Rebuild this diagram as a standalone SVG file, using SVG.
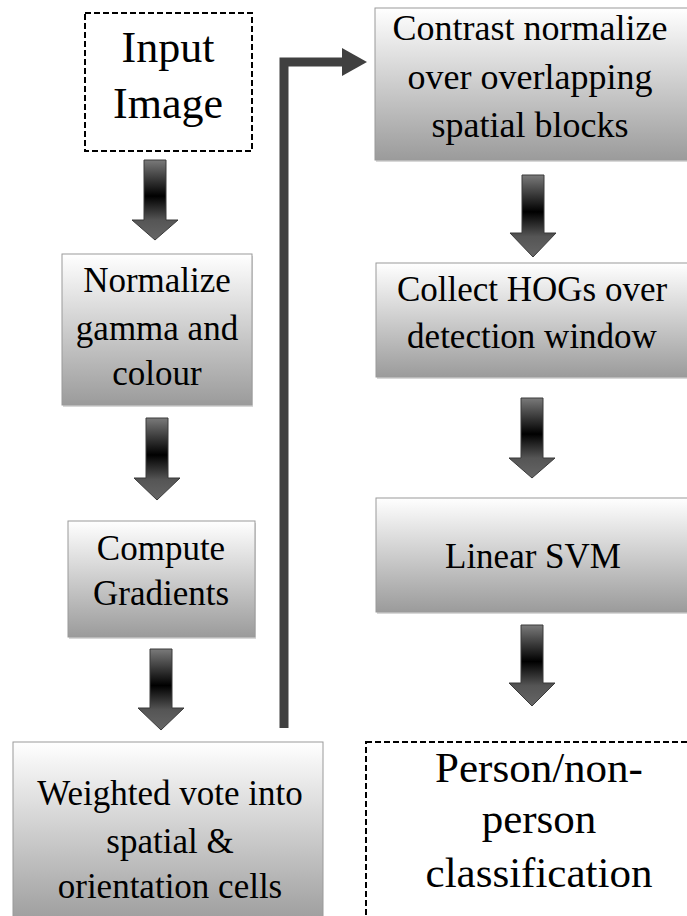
<svg xmlns="http://www.w3.org/2000/svg" width="687" height="916" viewBox="0 0 687 916">
<defs>
<linearGradient id="boxg" x1="0" y1="0" x2="0" y2="1">
<stop offset="0" stop-color="#ffffff"/>
<stop offset="1" stop-color="#9b9b9b"/>
</linearGradient>
<linearGradient id="arrg" x1="0" y1="0" x2="0" y2="1">
<stop offset="0" stop-color="#7a7a7a"/>
<stop offset="0.45" stop-color="#000000"/>
<stop offset="0.75" stop-color="#555555"/>
<stop offset="1" stop-color="#666666"/>
</linearGradient>
</defs>
<rect width="687" height="916" fill="#ffffff"/>

<g id="connectors">
<path d="M284 728 V62 H345" fill="none" stroke="#404040" stroke-width="9"/>
<polygon points="342,48 367,62 342,76" fill="#404040"/>
<g fill="url(#arrg)" stroke="#3a3a3a" stroke-width="1">
<polygon points="144,160 166,160 166,220 178,220 155,240 132,220 144,220"/>
<polygon points="146,418 168,418 168,478 180,478 157,500 134,478 146,478"/>
<polygon points="150,649 172,649 172,708 184,708 161,730 138,708 150,708"/>
<polygon points="522,175 544,175 544,233 556,233 533,257 510,233 522,233"/>
<polygon points="521,398 543,398 543,458 555,458 532,478 509,458 521,458"/>
<polygon points="521,625 543,625 543,683 555,683 532,706 509,683 521,683"/>
</g>
</g>

<g id="input-image">
<rect x="85" y="13" width="167" height="138" fill="#ffffff" stroke="#000" stroke-width="2" stroke-dasharray="6 3"/>
<text x="168" y="62" font-family="Times New Roman, Liberation Serif, serif" font-size="44" text-anchor="middle">Input</text>
<text x="168" y="118" font-family="Times New Roman, Liberation Serif, serif" font-size="44" text-anchor="middle">Image</text>
</g>

<g id="normalize">
<rect x="63" y="256" width="190" height="151" fill="#d8d8d8"/>
<rect x="62" y="254" width="190" height="151" fill="url(#boxg)" stroke="#9a9a9a" stroke-width="1"/>
<text x="157" y="292" font-family="Times New Roman, Liberation Serif, serif" font-size="35" text-anchor="middle">Normalize</text>
<text x="157" y="340" font-family="Times New Roman, Liberation Serif, serif" font-size="35" text-anchor="middle">gamma and</text>
<text x="157" y="385" font-family="Times New Roman, Liberation Serif, serif" font-size="35" text-anchor="middle">colour</text>
</g>

<g id="gradients">
<rect x="69" y="523" width="187" height="116" fill="#d8d8d8"/>
<rect x="68" y="521" width="187" height="116" fill="url(#boxg)" stroke="#9a9a9a" stroke-width="1"/>
<text x="161" y="560" font-family="Times New Roman, Liberation Serif, serif" font-size="35" text-anchor="middle">Compute</text>
<text x="161" y="605" font-family="Times New Roman, Liberation Serif, serif" font-size="35" text-anchor="middle">Gradients</text>
</g>

<g id="weighted-vote">
<rect x="13" y="742" width="310" height="184" fill="url(#boxg)" stroke="#9a9a9a" stroke-width="1"/>
<text x="170" y="805" font-family="Times New Roman, Liberation Serif, serif" font-size="35" text-anchor="middle">Weighted vote into</text>
<text x="170" y="853" font-family="Times New Roman, Liberation Serif, serif" font-size="35" text-anchor="middle">spatial &amp;</text>
<text x="170" y="898" font-family="Times New Roman, Liberation Serif, serif" font-size="35" text-anchor="middle">orientation cells</text>
</g>

<g id="contrast-normalize">
<rect x="376" y="10" width="320" height="152" fill="#d8d8d8"/>
<rect x="375" y="8" width="320" height="152" fill="url(#boxg)" stroke="#9a9a9a" stroke-width="1"/>
<text x="530" y="40" font-family="Times New Roman, Liberation Serif, serif" font-size="36" text-anchor="middle">Contrast normalize</text>
<text x="530" y="89" font-family="Times New Roman, Liberation Serif, serif" font-size="36" text-anchor="middle">over overlapping</text>
<text x="530" y="137" font-family="Times New Roman, Liberation Serif, serif" font-size="36" text-anchor="middle">spatial blocks</text>
</g>

<g id="collect-hogs">
<rect x="377" y="265" width="320" height="114" fill="#d8d8d8"/>
<rect x="376" y="263" width="320" height="114" fill="url(#boxg)" stroke="#9a9a9a" stroke-width="1"/>
<text x="532" y="301" font-family="Times New Roman, Liberation Serif, serif" font-size="35" text-anchor="middle">Collect HOGs over</text>
<text x="532" y="348" font-family="Times New Roman, Liberation Serif, serif" font-size="35" text-anchor="middle">detection window</text>
</g>

<g id="linear-svm">
<rect x="377" y="500" width="320" height="114" fill="#d8d8d8"/>
<rect x="376" y="498" width="320" height="114" fill="url(#boxg)" stroke="#9a9a9a" stroke-width="1"/>
<text x="533" y="568" font-family="Times New Roman, Liberation Serif, serif" font-size="35" text-anchor="middle">Linear SVM</text>
</g>

<g id="classification">
<rect x="366" y="742" width="330" height="184" fill="#ffffff" stroke="#000" stroke-width="2" stroke-dasharray="6 3"/>
<text x="539" y="782" font-family="Times New Roman, Liberation Serif, serif" font-size="43" text-anchor="middle">Person/non-</text>
<text x="539" y="833" font-family="Times New Roman, Liberation Serif, serif" font-size="43" text-anchor="middle">person</text>
<text x="539" y="887" font-family="Times New Roman, Liberation Serif, serif" font-size="43" text-anchor="middle">classification</text>
</g>
</svg>
